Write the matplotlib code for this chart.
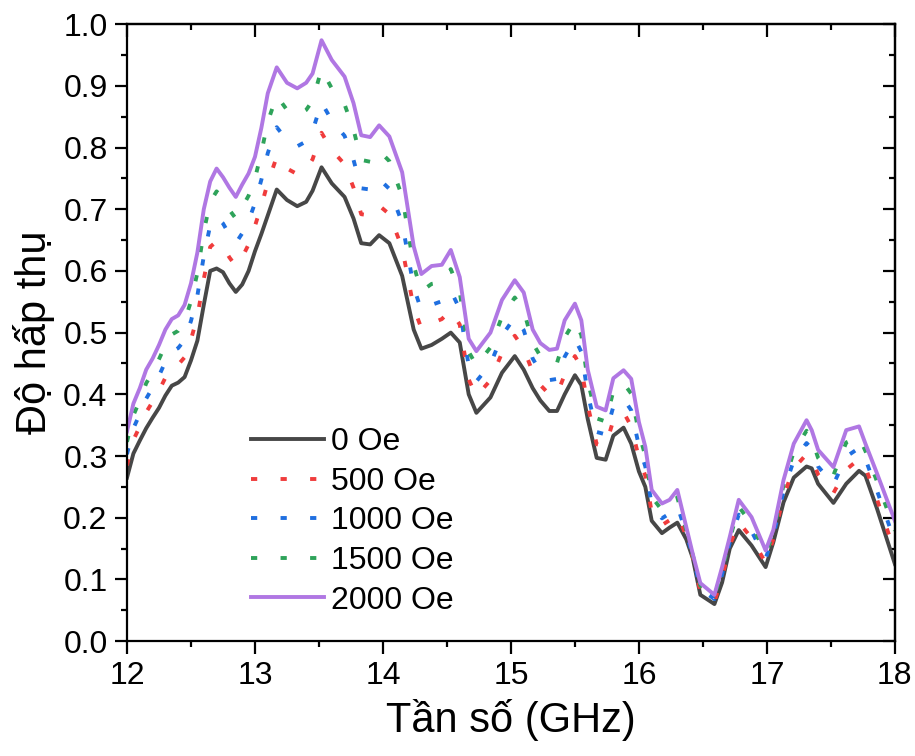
import matplotlib
matplotlib.use("Agg")
import matplotlib.pyplot as plt
from matplotlib.ticker import MultipleLocator

plt.rcParams['font.family'] = ['Liberation Sans', 'DejaVu Sans']

freq = [12.00, 12.05, 12.10, 12.15, 12.20, 12.25, 12.30, 12.35, 12.40, 12.45,
        12.50, 12.55, 12.60, 12.65, 12.70, 12.75, 12.80, 12.85, 12.90, 12.95,
        13.00, 13.05, 13.10, 13.17, 13.25, 13.33, 13.40, 13.45, 13.52, 13.60,
        13.70, 13.77, 13.83, 13.90, 13.97, 14.05, 14.15, 14.24, 14.30, 14.38,
        14.46, 14.53, 14.60, 14.67, 14.73, 14.84, 14.93, 15.03, 15.10, 15.17,
        15.23, 15.30, 15.36, 15.42, 15.50, 15.55, 15.60, 15.67, 15.74, 15.80,
        15.88, 15.94, 16.00, 16.05, 16.10, 16.18, 16.24, 16.30, 16.37, 16.42,
        16.48, 16.59, 16.65, 16.71, 16.78, 16.88, 16.99, 17.05, 17.13, 17.21,
        17.31, 17.35, 17.40, 17.52, 17.62, 17.72, 17.77, 17.86, 18.00]

abs_0 = [0.265, 0.304, 0.325, 0.345, 0.362, 0.378, 0.398, 0.414, 0.419, 0.428,
         0.455, 0.487, 0.545, 0.600, 0.604, 0.598, 0.580, 0.566, 0.578, 0.600,
         0.632, 0.660, 0.690, 0.732, 0.715, 0.705, 0.712, 0.730, 0.768, 0.742,
         0.720, 0.685, 0.645, 0.643, 0.658, 0.645, 0.592, 0.505, 0.474, 0.480,
         0.490, 0.500, 0.484, 0.400, 0.370, 0.395, 0.435, 0.462, 0.440, 0.410,
         0.390, 0.373, 0.373, 0.400, 0.431, 0.415, 0.360, 0.297, 0.294, 0.333,
         0.346, 0.320, 0.275, 0.250, 0.195, 0.175, 0.184, 0.192, 0.165, 0.135,
         0.075, 0.060, 0.095, 0.150, 0.180, 0.155, 0.120, 0.160, 0.225, 0.265,
         0.283, 0.280, 0.255, 0.224, 0.255, 0.276, 0.268, 0.215, 0.125]

abs_500 = [0.285, 0.326, 0.348, 0.371, 0.388, 0.406, 0.427, 0.443, 0.448, 0.460,
           0.489, 0.526, 0.587, 0.639, 0.648, 0.640, 0.622, 0.608, 0.622, 0.643,
           0.673, 0.706, 0.743, 0.785, 0.766, 0.757, 0.764, 0.781, 0.824, 0.796,
           0.773, 0.735, 0.692, 0.690, 0.706, 0.692, 0.637, 0.541, 0.507, 0.515,
           0.522, 0.536, 0.513, 0.424, 0.397, 0.423, 0.467, 0.495, 0.474, 0.436,
           0.415, 0.400, 0.400, 0.432, 0.462, 0.443, 0.382, 0.319, 0.316, 0.358,
           0.371, 0.348, 0.297, 0.268, 0.209, 0.188, 0.196, 0.206, 0.170, 0.137,
           0.080, 0.064, 0.102, 0.155, 0.193, 0.167, 0.127, 0.165, 0.235, 0.280,
           0.303, 0.297, 0.270, 0.240, 0.278, 0.295, 0.282, 0.230, 0.144]

abs_1000 = [0.303, 0.345, 0.368, 0.393, 0.411, 0.430, 0.453, 0.469, 0.475, 0.488,
            0.519, 0.560, 0.624, 0.674, 0.687, 0.677, 0.659, 0.645, 0.661, 0.681,
            0.710, 0.748, 0.791, 0.833, 0.812, 0.802, 0.810, 0.827, 0.873, 0.844,
            0.819, 0.780, 0.734, 0.732, 0.749, 0.733, 0.678, 0.574, 0.536, 0.545,
            0.551, 0.568, 0.538, 0.446, 0.421, 0.449, 0.495, 0.525, 0.504, 0.458,
            0.437, 0.423, 0.425, 0.461, 0.490, 0.469, 0.401, 0.339, 0.335, 0.380,
            0.393, 0.374, 0.316, 0.283, 0.221, 0.199, 0.207, 0.219, 0.175, 0.139,
            0.085, 0.068, 0.108, 0.160, 0.205, 0.178, 0.134, 0.170, 0.243, 0.293,
            0.321, 0.312, 0.283, 0.254, 0.299, 0.313, 0.295, 0.244, 0.161]

abs_1500 = [0.323, 0.366, 0.390, 0.418, 0.436, 0.457, 0.480, 0.497, 0.503, 0.518,
            0.551, 0.597, 0.664, 0.712, 0.729, 0.717, 0.699, 0.685, 0.703, 0.722,
            0.750, 0.792, 0.842, 0.884, 0.861, 0.852, 0.861, 0.876, 0.927, 0.896,
            0.870, 0.829, 0.780, 0.777, 0.795, 0.778, 0.721, 0.609, 0.567, 0.579,
            0.582, 0.603, 0.566, 0.469, 0.447, 0.476, 0.526, 0.557, 0.536, 0.483,
            0.462, 0.449, 0.451, 0.492, 0.520, 0.496, 0.422, 0.361, 0.356, 0.405,
            0.418, 0.401, 0.337, 0.300, 0.234, 0.212, 0.219, 0.233, 0.180, 0.140,
            0.090, 0.072, 0.114, 0.165, 0.218, 0.190, 0.141, 0.175, 0.253, 0.307,
            0.341, 0.328, 0.297, 0.269, 0.322, 0.331, 0.308, 0.259, 0.179]

abs_2000 = [0.340, 0.385, 0.410, 0.440, 0.458, 0.480, 0.505, 0.522, 0.528, 0.545,
            0.580, 0.630, 0.700, 0.745, 0.766, 0.752, 0.735, 0.720, 0.740, 0.758,
            0.785, 0.832, 0.888, 0.930, 0.905, 0.896, 0.905, 0.920, 0.974, 0.942,
            0.915, 0.872, 0.820, 0.817, 0.836, 0.818, 0.760, 0.640, 0.595, 0.608,
            0.610, 0.634, 0.590, 0.490, 0.470, 0.500, 0.553, 0.585, 0.565, 0.505,
            0.483, 0.472, 0.474, 0.520, 0.547, 0.520, 0.440, 0.380, 0.374, 0.426,
            0.439, 0.425, 0.355, 0.315, 0.245, 0.223, 0.229, 0.245, 0.185, 0.142,
            0.094, 0.075, 0.120, 0.169, 0.229, 0.201, 0.147, 0.180, 0.261, 0.320,
            0.358, 0.342, 0.310, 0.282, 0.342, 0.348, 0.320, 0.272, 0.195]

labels = ['0 Oe', '500 Oe', '1000 Oe', '1500 Oe', '2000 Oe']
colors = ['#474747', '#f03c3c', '#1f6fe0', '#2ea35a', '#b077e3']

fig = plt.figure(figsize=(9.15, 7.56), dpi=100)
ax = fig.add_axes([0.1388, 0.152, 0.8392, 0.816])

dot = (0, (1.6, 6.0))
series = [abs_0, abs_500, abs_1000, abs_1500, abs_2000]
styles = ['-', dot, dot, dot, '-']
for y, lab, c, ls in zip(series, labels, colors, styles):
    ax.plot(freq, y, color=c, lw=2.8, linestyle=ls, label=lab,
            dash_capstyle='butt', solid_joinstyle='round')

ax.set_xlim(12, 18)
ax.set_ylim(0, 1.0)
ax.xaxis.set_major_locator(MultipleLocator(1))
ax.xaxis.set_minor_locator(MultipleLocator(0.5))
ax.yaxis.set_major_locator(MultipleLocator(0.1))
ax.yaxis.set_minor_locator(MultipleLocator(0.05))
ax.yaxis.set_major_formatter(plt.FuncFormatter(lambda v, p: f"{v:.1f}"))

for s in ax.spines.values():
    s.set_linewidth(1.6)
ax.tick_params(which='major', direction='out', length=9, width=1.6,
               labelsize=23, pad=5)
ax.tick_params(which='minor', direction='out', length=4.5, width=1.6)

# mirrored ticks on top and right pointing inward
sec_x = ax.secondary_xaxis('top')
sec_x.xaxis.set_major_locator(MultipleLocator(1))
sec_x.xaxis.set_minor_locator(MultipleLocator(0.5))
sec_x.tick_params(which='major', direction='in', length=9, width=1.6, labeltop=False)
sec_x.tick_params(which='minor', direction='in', length=4.5, width=1.6)
sec_y = ax.secondary_yaxis('right')
sec_y.yaxis.set_major_locator(MultipleLocator(0.1))
sec_y.yaxis.set_minor_locator(MultipleLocator(0.05))
sec_y.tick_params(which='major', direction='in', length=9, width=1.6, labelright=False)
sec_y.tick_params(which='minor', direction='in', length=4.5, width=1.6)
for s in list(sec_x.spines.values()) + list(sec_y.spines.values()):
    s.set_linewidth(1.6)

ax.set_xlabel('Tần số (GHz)', fontsize=30, labelpad=6)
ax.set_ylabel('Độ hấp thụ', fontsize=30, labelpad=6)

leg = ax.legend(loc='lower left', bbox_to_anchor=(0.132, 0.005), frameon=False,
                fontsize=23, handlelength=2.3, handletextpad=0.2,
                labelspacing=0.3, borderpad=0.2)

fig.savefig('out.png', dpi=100)
